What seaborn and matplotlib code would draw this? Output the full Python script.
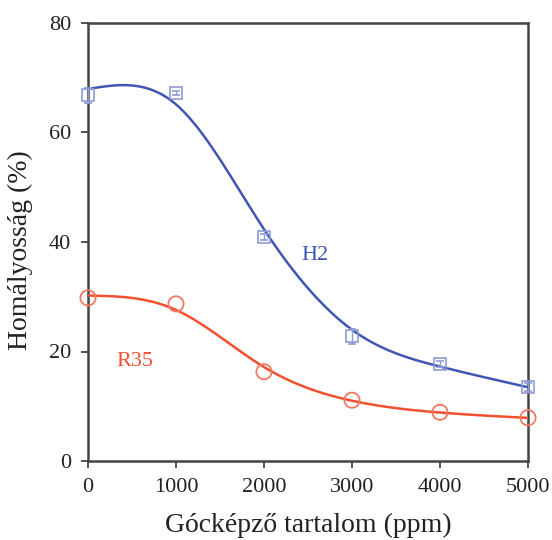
import numpy as np
import pandas as pd
import matplotlib
matplotlib.use("Agg")
import matplotlib.pyplot as plt
import seaborn as sns

# Measured haze values vs. nucleating agent content
content_ppm = [0, 1000, 2000, 3000, 4000, 5000]
haze_h2 = [66.8, 67.2, 40.9, 22.8, 17.7, 13.5]
haze_h2_err = [1.4, 0.4, 0.6, 1.4, 0.6, 0.8]
haze_r35 = [29.8, 28.7, 16.3, 11.1, 8.9, 7.9]

x_ticks = [0, 1000, 2000, 3000, 4000, 5000]
y_ticks = [0, 20, 40, 60, 80]

BLUE_LINE = "#3f57b3"
BLUE_MARK = "#8d9bd8"
RED_LINE = "#f2502f"
RED_MARK = "#f27a63"


def smoothing_spline(x, y, lam, weights=None, step=10):
    """Penalised (cubic smoothing spline style) fit evaluated on a fine grid."""
    grid = np.arange(0, max(x) + step, step)
    h = step / 1000.0
    n = len(grid)
    w = np.zeros(n)
    b = np.zeros(n)
    if weights is None:
        weights = np.ones(len(x))
    for xi, yi, wi in zip(x, y, weights):
        k = int(round(xi / step))
        w[k] = wi
        b[k] = wi * yi
    D = np.diff(np.eye(n), 2, axis=0)
    A = np.diag(w) + lam * D.T @ D / h**3
    return grid, np.linalg.solve(A, b)


sns.set_theme(style="ticks")
plt.rcParams["font.family"] = ["Liberation Serif", "DejaVu Serif"]

fig = plt.figure(figsize=(5.52, 5.40), dpi=100)
ax = fig.add_axes([88 / 552, 1 - 461 / 540, 440 / 552, 438 / 540])

gx, fit_h2 = smoothing_spline(content_ppm, haze_h2, 0.035,
                              weights=[1, 1.3, 1, 0.5, 1, 1])
_, fit_r35 = smoothing_spline(content_ppm, haze_r35, 0.03)
curves = pd.DataFrame({
    "x": np.concatenate([gx, gx]),
    "y": np.concatenate([fit_h2, fit_r35]),
    "grade": ["H2"] * len(gx) + ["R35"] * len(gx),
})
sns.lineplot(data=curves, x="x", y="y", hue="grade",
             palette={"H2": BLUE_LINE, "R35": RED_LINE},
             linewidth=1.8, legend=False, ax=ax, zorder=3)

ax.errorbar(content_ppm, haze_h2, yerr=haze_h2_err, fmt="s", ms=8,
            mfc="none", mec=BLUE_MARK, mew=1.2, ecolor=BLUE_MARK,
            elinewidth=1.0, capsize=3, clip_on=False, zorder=4)
sns.scatterplot(x=content_ppm, y=haze_r35, marker="o", s=120,
                facecolor="none", edgecolor=RED_MARK, linewidth=1.3,
                ax=ax, clip_on=False, zorder=4)

ax.text(2430, 36.8, "H2", color=BLUE_LINE, fontsize=16)
ax.text(320, 17.3, "R35", color=RED_LINE, fontsize=16)

ax.set_xlim(0, 5000)
ax.set_ylim(0, 80)
ax.set_xticks(x_ticks)
ax.set_yticks(y_ticks)
ax.tick_params(axis="both", direction="out", length=5, width=1.3,
               labelsize=16, colors="#444444", labelcolor="#222222",
               top=False, right=False, pad=7)
for side in ["left", "right", "top", "bottom"]:
    ax.spines[side].set_visible(True)
    ax.spines[side].set_linewidth(1.8)
    ax.spines[side].set_color("#444444")

ax.set_xlabel("Gócképző tartalom (ppm)", fontsize=20, color="#222222")
ax.set_ylabel("Homályosság (%)", fontsize=20, color="#222222")
ax.xaxis.set_label_coords(0.5, -0.118)
ax.yaxis.set_label_coords(-0.125, 0.482)

fig.savefig("out.png", dpi=100)
